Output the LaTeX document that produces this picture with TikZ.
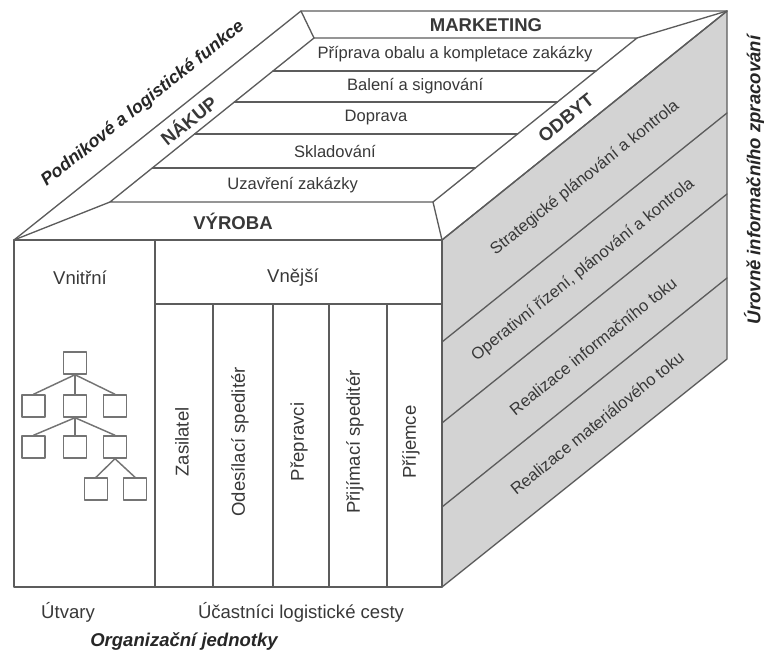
\documentclass[tikz,border=0pt]{standalone}
\usepackage{fontspec}
\setmainfont{Liberation Sans}
\usetikzlibrary{calc}
\definecolor{edgegray}{HTML}{5C5C5C}
\definecolor{facegray}{HTML}{D3D3D3}
\definecolor{textgray}{HTML}{383838}
\tikzset{
    edge/.style={draw=edgegray, line width=1pt},
    lab/.style={
        font=\fontsize{13.9}{16}\selectfont, text=textgray, inner sep=0pt
    },
    smalllab/.style={
        font=\fontsize{12.4}{14}\selectfont, text=textgray, inner sep=0pt
    },
    headlab/.style={
        font=\bfseries\fontsize{13.9}{16}\selectfont, text=textgray, inner sep=0pt
    },
    axislab/.style={
        font=\bfseries\itshape\fontsize{13.9}{16}\selectfont, text=black!85, inner sep=0pt
    },
    unitbox/.style={
        draw=edgegray!85, line width=1.1pt, minimum width=17pt, minimum height=16.5pt, inner sep=0pt
    }
}

\begin{document}
\begin{tikzpicture}[x=0.75pt,y=-0.75pt, line cap=round, line join=round]

\useasboundingbox (0,0) rectangle (764,652);

% corners of the cube
\coordinate (FL) at (14,240);
\coordinate (FR) at (442,240);
\coordinate (BL) at (301,11);
\coordinate (BR) at (727,11);
\coordinate (DL) at (14,587);
\coordinate (DR) at (442,587);
\coordinate (DB) at (727,359);
% inner frame of the top face
\coordinate (IFL) at (110,202);
\coordinate (IFR) at (433,202);
\coordinate (IBL) at (314,38);
\coordinate (IBR) at (637,38);
\coordinate (IFM) at ($(IFL)!0.5!(IFR)$);
\coordinate (IBM) at ($(IBL)!0.5!(IBR)$);

% right face
\fill[facegray] (FR) -- (BR) -- (DB) -- (DR) -- cycle;
\draw[edge] (FR) -- (BR) -- (DB) -- (DR) -- cycle;
\foreach \y in {342,423,507} {
  \draw[edge] ($(FR)+(0,\y-240)$) -- ($(BR)+(0,\y-240)$);
}

% top face
\draw[edge] (FL) -- (FR) -- (BR) -- (BL) -- cycle;
\draw[edge] (IFL) -- (IFR) -- (IBR) -- (IBL) -- cycle;
\draw[edge] (FL) -- (IFL);
\draw[edge] (FR) -- (IFR);
\draw[edge] (BL) -- (IBL);
\draw[edge] (BR) -- (IBR);
\foreach \y in {71,102,134,168} {
  \pgfmathsetmacro{\f}{(202-\y)/164}
  \draw[edge] ($(IFL)!\f!(IBL)$) -- ($(IFR)!\f!(IBR)$);
}

% front face
\draw[edge] (FL) rectangle (DR);
\draw[edge] (155,240) -- (155,587);
\draw[edge] (155,304) -- (442,304);
\foreach \x in {213,273,329,387} {
  \draw[edge] (\x,304) -- (\x,587);
}

% labels of the top face
\node[headlab] (marketing) at (486,25) {MARKETING};
\node[headlab] (vyroba) at (233,221) {VÝROBA};
\node[headlab, rotate=38.7] (nakup) at (188,120) {NÁKUP};
\node[headlab, rotate=38.7] (odbyt) at (566,118) {ODBYT};
\foreach \y/\txt [count=\i] in {54.5/{Příprava obalu a kompletace zakázky},
    86.5/{Balení a signování}, 118/Doprava, 151/Skladování, 185/{Uzavření zakázky}} {
  \pgfmathsetmacro{\f}{(202-\y)/164}
  \node[smalllab] (step\i) at ($(IFM)!\f!(IBM)$) {\txt};
}

% labels of the right face
\foreach \x/\y/\txt [count=\i] in {585/178/{Strategické plánování a kontrola},
    583/270/{Operativní řízení, plánování a kontrola},
    593/346/{Realizace informačního toku},
    597/423/{Realizace materiálového toku}} {
  \node[smalllab, rotate=38.8] (level\i) at (\x,\y) {\txt};
}

% labels of the front face
\node[lab] (vnitrni) at (80,278) {Vnitřní};
\node[lab] (vnejsi) at (293,278) {Vnější};
\foreach \x/\txt [count=\i] in {182/Zasilatel, 240/{Odesílací speditér}, 299/Přepravci,
    355/{Přijímací speditér}, 411/Příjemce} {
  \node[lab, rotate=90] (member\i) at (\x,442) {\txt};
}

% organisation tree
\node[unitbox] (root) at (75,363) {};
\node[unitbox] (a1) at (33.5,406) {};
\node[unitbox] (a2) at (75,406) {};
\node[unitbox] (a3) at (115,406) {};
\node[unitbox] (b1) at (33.5,447) {};
\node[unitbox] (b2) at (75,447) {};
\node[unitbox] (b3) at (115,447) {};
\node[unitbox] (c1) at (96,489) {};
\node[unitbox] (c2) at (135,489) {};
\foreach \n in {a1,a2,a3} {
  \draw[draw=edgegray!85, line width=1.1pt] (root.south) -- (\n.north);
}
\foreach \n in {b1,b2,b3} {
  \draw[draw=edgegray!85, line width=1.1pt] (a2.south) -- (\n.north);
}
\foreach \n in {c1,c2} {
  \draw[draw=edgegray!85, line width=1.1pt] (b3.south) -- (\n.north);
}

% axis labels
\node[axislab, rotate=38.6, scale=0.96] (funkce) at (143,104) {Podnikové a logistické funkce};
\node[axislab, rotate=90] (urovne) at (754,180) {Úrovně informačního zpracování};
\node[lab] (utvary) at (68,612) {Útvary};
\node[lab] (ucastnici) at (301,612) {Účastníci logistické cesty};
\node[axislab] (jednotky) at (184,642) {Organizační jednotky};

\end{tikzpicture}
\end{document}
